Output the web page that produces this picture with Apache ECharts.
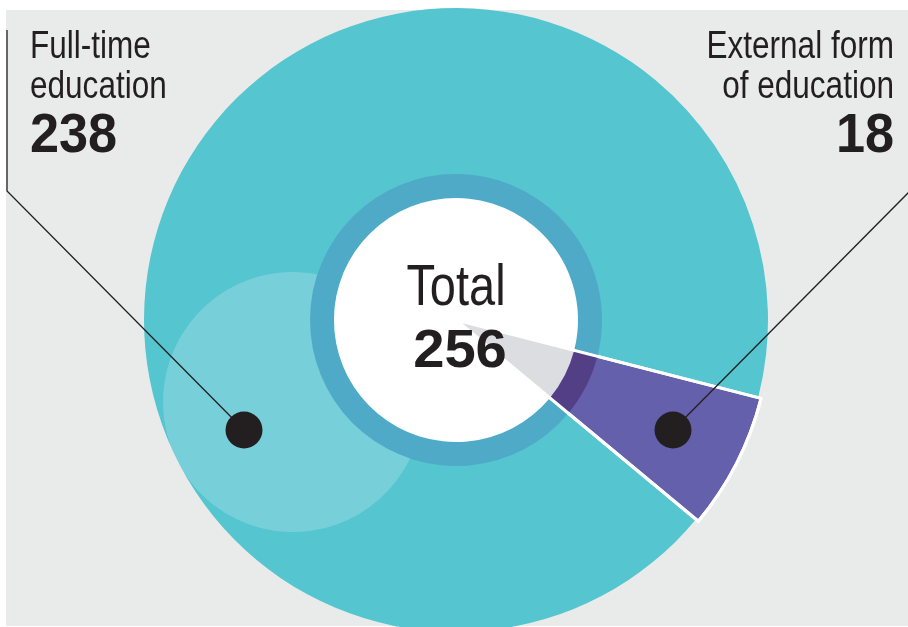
<!DOCTYPE html>
<html>
<head>
<meta charset="utf-8">
<script src="https://cdn.jsdelivr.net/npm/echarts@6/dist/echarts.min.js"></script>
<style>
  html, body { margin: 0; padding: 0; background: #fff; }
  #pieChart { width: 908px; height: 627px; }
</style>
</head>
<body>
<div id="pieChart"></div>
<script>
// data
var categories = ["External form of education", "Full-time education"];
var labelLines = [["External form", "of education"], ["Full-time", "education"]];
var values = [18, 238];
var totalLabel = "Total";

var total = values.reduce(function (a, b) { return a + b; }, 0);

var teal = "#55c5d0", purple = "#6460ab";
var ink = "#231f20";
var sans = "'Liberation Sans', Arial, sans-serif";

function pieData(colors, borders) {
  return values.map(function (v, i) {
    return {
      name: categories[i],
      value: v,
      itemStyle: {
        color: colors[i],
        borderColor: "#fff",
        borderWidth: borders[i]
      }
    };
  });
}

function pieBase(z, radius, center) {
  return {
    type: "pie",
    z: z,
    silent: true,
    center: center || [456, 320],
    radius: radius,
    startAngle: -14.4,
    clockwise: true,
    label: { show: false },
    labelLine: { show: false },
    emphasis: { disabled: true }
  };
}

var base = pieBase(1, [0, 312]);
base.data = pieData([teal, teal], [0, 0]);

var slice = pieBase(2, [0, 315]);
slice.data = pieData([purple, "transparent"], [3, 0]);

// light bubble around the full-time marker
var bubble = pieBase(2, [0, 130], [293, 402]);
bubble.data = [{ name: categories[1], value: values[1], itemStyle: { color: "rgba(255,255,255,0.2)" } }];

var ring = pieBase(3, [122, 146]);
ring.data = pieData(["#533f86", "#4faac8"], [0, 0]);

var inner = pieBase(4, [0, 122]);
inner.data = pieData(["#dcdde0", "#ffffff"], [0, 0]);

// white edges of the external slice, drawn over the ring
var edges = pieBase(5, [0, 315]);
edges.data = pieData(["transparent", "transparent"], [3, 0]);

function label(txt, x, y, size, bold, align, sx) {
  return {
    type: "text", z: 100, x: x, y: y, scaleX: sx,
    style: {
      text: txt,
      font: (bold ? "bold " : "") + size + "px " + sans,
      fill: ink,
      textAlign: align,
      textVerticalAlign: "middle"
    }
  };
}

var chart = echarts.init(document.getElementById("pieChart"));
chart.setOption({
  backgroundColor: "#fff",
  animation: false,
  graphic: [
    { type: "rect", z: -10, shape: { x: 6, y: 10, width: 902, height: 616 }, style: { fill: "#e9ebea" } },
    // leader lines and markers
    { type: "polyline", z: 100, shape: { points: [[7, 30], [7, 191], [244, 430]] }, style: { stroke: ink, lineWidth: 1.3, fill: null } },
    { type: "polyline", z: 100, shape: { points: [[910, 191], [673, 430]] }, style: { stroke: ink, lineWidth: 1.3, fill: null } },
    { type: "circle", z: 100, shape: { cx: 244, cy: 430, r: 18.5 }, style: { fill: ink } },
    { type: "circle", z: 100, shape: { cx: 673, cy: 430, r: 18.5 }, style: { fill: ink } },
    // left label
    label(labelLines[1][0], 30, 48, 38, false, "left", 0.83),
    label(labelLines[1][1], 30, 88, 38, false, "left", 0.83),
    label(String(values[1]), 30, 137, 55, true, "left", 0.95),
    // right label
    label(labelLines[0][0], 894, 48, 38, false, "right", 0.83),
    label(labelLines[0][1], 894, 88, 38, false, "right", 0.83),
    label(String(values[0]), 894, 137, 55, true, "right", 0.95),
    // centre
    label(totalLabel, 456, 289, 58, false, "center", 0.81),
    label(String(total), 460, 352, 54, true, "center", 1.04)
  ],
  series: [base, slice, bubble, ring, inner, edges]
});
</script>
</body>
</html>
